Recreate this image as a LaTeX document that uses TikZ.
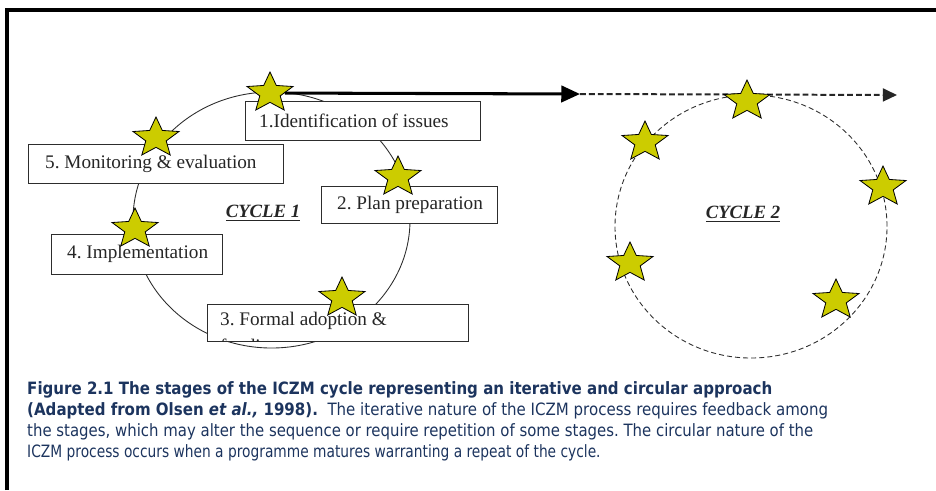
\documentclass[tikz,border=0pt]{standalone}
\usepackage{fontspec}
\usepackage{graphicx}
\setmainfont{Liberation Serif}
\newfontfamily\capfont{DejaVu Sans}
\usetikzlibrary{shapes.geometric,arrows.meta}
\definecolor{staryellow}{RGB}{204,204,0}
\definecolor{capblue}{RGB}{28,52,94}
\definecolor{linegray}{RGB}{45,45,45}
\frenchspacing
\begin{document}
\begin{tikzpicture}[x=0.03cm,y=-0.03cm,
  box/.style={draw=linegray, line width=0.6pt, fill=white, anchor=north west,
    inner sep=0pt},
  boxtext/.style={anchor=west, inner sep=0pt, text=black!85,
    font=\fontsize{16.4}{22}\selectfont},
  starnode/.style={star, star points=5, star point ratio=2.25, draw=black,
    line width=0.7pt, fill=staryellow, minimum size=1.26cm, inner sep=0pt},
  starat/.style={shift={#1}, xscale=1.15, transform shape},
  cyclelabel/.style={text=black!85, font=\fontsize{16}{19}\selectfont\bfseries\itshape},
  captxt/.style={anchor=base west, inner sep=0pt, text=capblue,
    font=\capfont\fontsize{14.5}{18}\selectfont},
  frameline/.style={line width=2.6pt, black}
]
\useasboundingbox (0,0) rectangle (936,490);
% frame
\coordinate (fb) at (7,490);
\coordinate (fc) at (7,10);
\coordinate (fr) at (936,10);
\draw[frameline] (fb) -- (fc) -- (fr);

% cycles
\node[ellipse, draw=linegray, line width=0.75pt, minimum width=8.31cm,
  minimum height=7.68cm, inner sep=0pt] (c1) at (271.5,220) {};
\node[ellipse, draw=linegray, line width=0.75pt, dash pattern=on 4.3pt off 2.6pt,
  minimum width=8.16cm, minimum height=7.89cm, inner sep=0pt] (c2) at (751,226.5) {};

\node[cyclelabel] (l1) at (263,213) {\underline{CYCLE 1}};
\node[cyclelabel] (l2) at (743,214) {\underline{CYCLE 2}};

% boxes
\node[box, minimum width=7.05cm, minimum height=1.17cm] (b1) at (245,101) {};
\node[boxtext] (b1t) at ([shift={(14,0)}]b1.west) {1.Identification of issues};
\node[box, minimum width=7.65cm, minimum height=1.17cm] (b5) at (28,144) {};
\node[boxtext] (b5t) at ([shift={(17,0)}]b5.west) {5. Monitoring \& evaluation};
\node[box, minimum width=5.28cm, minimum height=1.11cm] (b2) at (321,186) {};
\node[boxtext] (b2t) at ([shift={(16,0)}]b2.west) {2. Plan preparation};
\node[box, minimum width=5.13cm, minimum height=1.2cm] (b4) at (51,234) {};
\node[boxtext] (b4t) at ([shift={(16,0)}]b4.west) {4. Implementation};
\node[box, minimum width=7.83cm, minimum height=1.11cm] (b3) at (207,304) {};
\begin{scope}
  \clip (b3.north west) rectangle (b3.south east);
  \node[anchor=north west, inner sep=0pt, align=left, text=black!85,
    font=\fontsize{16.4}{23}\selectfont] (b3t) at ([shift={(13,8)}]b3.north west)
    {3. Formal adoption \&\\funding};
\end{scope}

% dashed arrow (behind stars)
\coordinate (m) at (580,94);
\coordinate (e) at (897,95);
\draw[line width=1.7pt, black!85, dash pattern=on 5pt off 2.6pt,
  -{Triangle[length=12pt,width=11pt]}] (m) -- (e);

% stars cycle 1
\node[starnode, starat={(270,93)}] (s1) at (0,0) {};
\node[starnode, starat={(398,177)}] (s2) at (0,0) {};
\node[starnode, starat={(342,298)}] (s3) at (0,0) {};
\node[starnode, starat={(135,229)}] (s4) at (0,0) {};
\node[starnode, starat={(156,138)}] (s5) at (0,0) {};
% stars cycle 2
\node[starnode, starat={(747,101)}] (t1) at (0,0) {};
\node[starnode, starat={(883,187)}] (t2) at (0,0) {};
\node[starnode, starat={(836,300)}] (t3) at (0,0) {};
\node[starnode, starat={(630,263)}] (t4) at (0,0) {};
\node[starnode, starat={(645,142)}] (t5) at (0,0) {};

% solid arrow
\draw[line width=2.6pt, black, -{Triangle[length=16pt,width=14pt]}] (s1) -- (m);

% caption
\node[captxt] (cap1) at (27,394) {\resizebox{22.35cm}{\height}{\bfseries Figure 2.1 The stages of the ICZM cycle representing an iterative and circular approach}};
\node[captxt] (cap2) at (27,415) {\resizebox{24.03cm}{\height}{{\bfseries (Adapted from Olsen {\itshape et al.,} 1998).}\ \ The iterative nature of the ICZM process requires feedback among}};
\node[captxt] (cap3) at (27,436) {\resizebox{23.58cm}{\height}{the stages, which may alter the sequence or require repetition of some stages. The circular nature of the}};
\node[captxt] (cap4) at (27,457) {\resizebox{17.2cm}{\height}{ICZM process occurs when a programme matures warranting a repeat of the cycle.}};
\end{tikzpicture}
\end{document}
